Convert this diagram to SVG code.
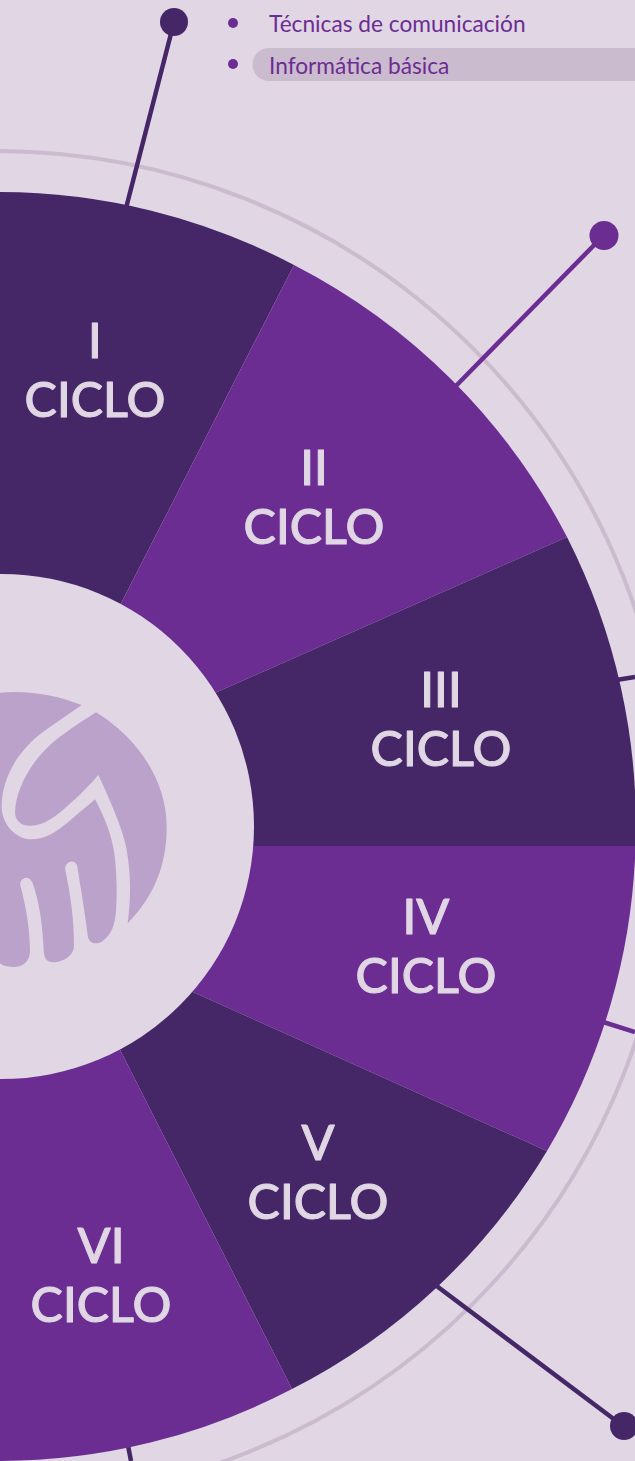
<svg xmlns="http://www.w3.org/2000/svg" width="635" height="1461" viewBox="0 0 635 1461">
<style>
.dk{fill:#452768}.br{fill:#6c2d93}
.cl{stroke-width:4.500;fill:none;stroke-linecap:butt}
.ds{stroke:#452768}.bs{stroke:#6c2d93}
.t{font-family:"Lato","Noto Sans",sans-serif;font-size:48.500px;font-weight:500;fill:#e0d6e4;text-anchor:middle;stroke:#e0d6e4;stroke-width:1;stroke-linejoin:round}
.s{font-family:"Lato","Noto Sans",sans-serif;font-size:22.700px;fill:#6c2d93}
</style>
<rect width="635" height="1461" fill="#e0d6e4"/>
<g id="ring"><circle cx="-4" cy="826" r="675" fill="none" stroke="#cbbbce" stroke-width="4"/></g>
<g id="connectors">
<line class="cl ds" x1="174" y1="22" x2="125" y2="212"/>
<line class="cl bs" x1="604" y1="235" x2="450" y2="392"/>
<line class="cl ds" x1="610" y1="681" x2="635" y2="677"/>
<line class="cl bs" x1="600" y1="1021" x2="635" y2="1032"/>
<line class="cl ds" x1="430" y1="1281" x2="623" y2="1426"/>
<line class="cl ds" x1="126" y1="1435" x2="131" y2="1461"/>
<circle class="dk" cx="174" cy="22" r="14"/>
<circle class="br" cx="604" cy="235.500" r="14.500"/>
<circle class="dk" cx="624" cy="1426" r="14"/>
</g>
<g id="sector-1"><path class="dk" d="M0,192A634,634 0 0 1 294,265L112,621L0,600Z"/></g>
<g id="sector-2"><path class="br" d="M294,265A634,634 0 0 1 567,537L199,700L112,621Z"/></g>
<g id="sector-3"><path class="dk" d="M567,537A634,634 0 0 1 635.500,846L235,846L199,700Z"/></g>
<g id="sector-4"><path class="br" d="M635.500,846A634,634 0 0 1 547,1151L175,984L235,846Z"/></g>
<g id="sector-5"><path class="dk" d="M547,1151A634,634 0 0 1 292,1389L111,1032L175,984Z"/></g>
<g id="sector-6"><path class="br" d="M292,1389A634,634 0 0 1 0,1461L0,1060L111,1032Z"/></g>
<g id="hub"><circle cx="1.500" cy="826.500" r="252.500" fill="#e0d6e4"/></g>
<g id="labels">
<text class="t" x="95" y="358">I</text><text class="t" x="95" y="417">CICLO</text>
<text class="t" x="314" y="485">II</text><text class="t" x="314" y="544">CICLO</text>
<text class="t" x="441" y="707">III</text><text class="t" x="441" y="766">CICLO</text>
<text class="t" x="426" y="934">IV</text><text class="t" x="426" y="993">CICLO</text>
<text class="t" x="318" y="1160">V</text><text class="t" x="318" y="1219">CICLO</text>
<text class="t" x="101" y="1263">VI</text><text class="t" x="101" y="1322">CICLO</text>
</g>
<g id="logo" transform="translate(0,670) scale(.33333)" fill="#bba2cb">
<path d="M0,68C85,60 170,75 245,105C205,133 165,160 130,185C60,235 5,320 5,410C5,465 50,508 95,508C135,508 170,485 200,460C230,435 260,410 285,388C315,445 335,495 343,550C350,600 352,670 348,720C345,765 335,795 305,815C285,825 265,820 263,795C255,730 245,670 232,590C228,575 218,572 208,576C197,582 193,592 197,605C210,670 222,740 222,825C222,850 205,868 175,875C150,880 135,875 132,850C128,790 125,740 110,680C100,640 95,625 80,623C65,625 58,635 62,650C75,700 90,770 90,845C88,875 70,890 40,891C20,891 5,885 0,880Z"/>
<path d="M288,127C400,195 500,320 500,470C500,590 460,680 383,760C392,690 394,620 380,540C370,480 330,390 295,315C270,345 235,380 200,410C170,435 135,467 90,467C60,467 45,450 45,425C47,360 90,280 150,225C190,190 240,158 288,127Z"/>
</g>
<g id="list">
<circle class="br" cx="233" cy="23" r="5"/>
<text class="s" x="269" y="32">Técnicas de comunicación</text>
<circle class="br" cx="233" cy="64" r="5"/>
<path d="M635,48H269A16.500,16.500 0 0 0 269,81H635Z" fill="#cbbbce"/>
<text class="s" x="269" y="74">Informática básica</text>
</g>
</svg>
